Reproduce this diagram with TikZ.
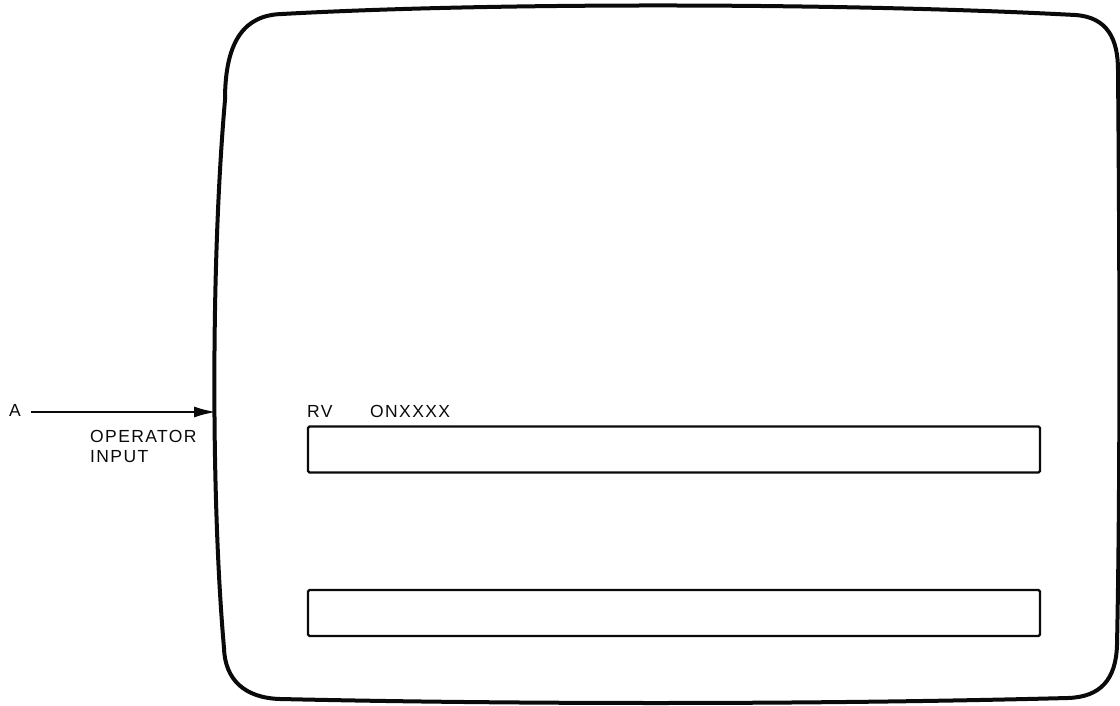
\documentclass[tikz,border=0pt]{standalone}
\usepackage{fontspec}
\usepackage{xcolor}
\usetikzlibrary{arrows.meta}
\usetikzlibrary{positioning,calc}
\newfontfamily\dispfont{Liberation Sans}[LetterSpace=8]
\definecolor{inkblack}{RGB}{10,10,10}

\begin{document}
\begin{tikzpicture}[x=1pt,y=-1pt,
    lbl/.style={inner sep=0pt,anchor=base west,text=inkblack,
                font=\fontsize{17.5}{20}\selectfont\dispfont},
    field/.style={draw=inkblack,line width=2.4pt,rounded corners=1.5pt,
                  minimum width=732pt,minimum height=46pt,inner sep=0pt}]
    \useasboundingbox (0,0) rectangle (1120,706);
    % screen outline
    \draw[inkblack,line width=4pt,line join=round]
      (225,100) .. controls (225,40) and (245,15) .. (282,14)
      .. controls (500,2) and (850,3) .. (1075,15)
      .. controls (1108,17) and (1118,40) .. (1118,70)
      .. controls (1120,300) and (1120,500) .. (1117,645)
      .. controls (1116,680) and (1100,697) .. (1068,698)
      .. controls (800,705) and (500,704) .. (280,699)
      .. controls (245,698) and (225,680) .. (224,648)
      .. controls (211,500) and (211,260) .. cycle;
    \coordinate (scrin) at (216,412);
    % operator input
    \node[lbl] (lblA) at (9,416) {A};
    \draw[inkblack,line width=2pt,-{Latex[length=22pt,width=11pt]}]
      ([xshift=10pt]lblA.east |- scrin) -- (scrin);
    \node[lbl] (opin) at (90,442) {OPERATOR};
    \node[lbl] (opin2) at (90,462) {INPUT};
    % fields
    \node[lbl] (rv) at (307,417) {RV};
    \node[lbl] (onx) at (370,417) {ONXXXX};
    \node[field] (fieldA) at (674,449.5) {};
    \node[field] (fieldB) at (674,613) {};
  \end{tikzpicture}
\end{document}
